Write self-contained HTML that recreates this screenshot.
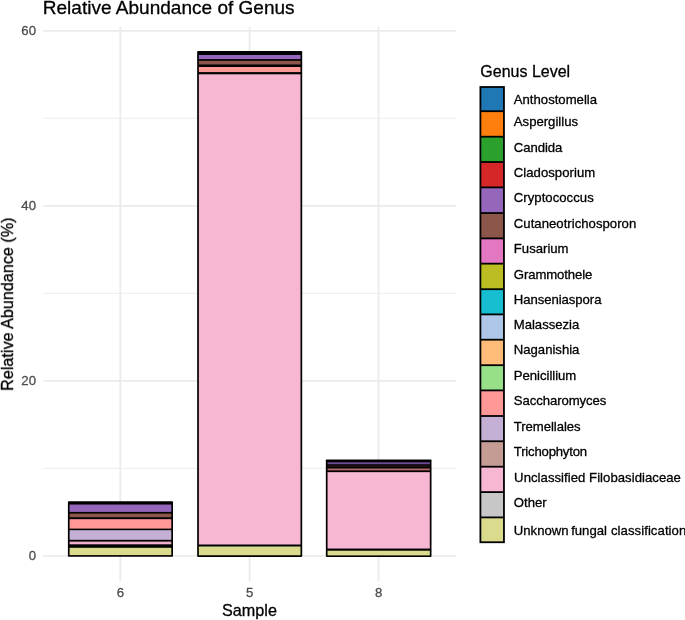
<!DOCTYPE html>
<html lang="en"><head><meta charset="utf-8"><title>Relative Abundance of Genus</title>
<style>html,body{margin:0;padding:0;background:#fff;overflow:hidden;}svg{display:block;}text{filter:url(#soft);font-family:"Liberation Sans",Arial,Helvetica,sans-serif;stroke-width:0.3px;stroke-linejoin:round;}</style>
</head><body>
<svg width="685" height="620" viewBox="0 0 685 620">
<defs><filter id="soft" x="-5%" y="-10%" width="110%" height="120%"><feGaussianBlur stdDeviation="0.3"/></filter></defs>
<rect x="0" y="0" width="685" height="620" fill="#ffffff"/>
<g stroke="#ebebeb" stroke-width="0.9" fill="none">
<line x1="43.2" x2="456.4" y1="468.30" y2="468.30"/>
<line x1="43.2" x2="456.4" y1="293.30" y2="293.30"/>
<line x1="43.2" x2="456.4" y1="118.30" y2="118.30"/>
</g>
<g stroke="#ebebeb" stroke-width="1.8" fill="none">
<line x1="43.2" x2="456.4" y1="555.80" y2="555.80"/>
<line x1="43.2" x2="456.4" y1="380.80" y2="380.80"/>
<line x1="43.2" x2="456.4" y1="205.80" y2="205.80"/>
<line x1="43.2" x2="456.4" y1="30.80" y2="30.80"/>
<line x1="120.3" x2="120.3" y1="26.8" y2="581.0"/>
<line x1="249.6" x2="249.6" y1="26.8" y2="581.0"/>
<line x1="378.55" x2="378.55" y1="26.8" y2="581.0"/>
</g>
<rect x="67.9" y="501.2" width="105.10" height="55.65" rx="0.8" ry="0.8" fill="#000"/>
<rect x="69.60" y="504.55" width="101.70" height="7.35" fill="#9467bd"/>
<rect x="69.60" y="513.6" width="101.70" height="3.65" fill="#8c564b"/>
<rect x="69.60" y="519.2" width="101.70" height="9.40" fill="#ff9896"/>
<rect x="69.60" y="530.2" width="101.70" height="9.60" fill="#c5b0d5"/>
<rect x="69.60" y="541.6" width="101.70" height="2.70" fill="#f0aecb"/>
<rect x="69.60" y="547.8" width="101.70" height="7.30" fill="#dbdb8d"/>
<rect x="197.15" y="51.1" width="105.05" height="505.80" rx="0.8" ry="0.8" fill="#000"/>
<rect x="198.85" y="55.0" width="101.65" height="4.10" fill="#9467bd"/>
<rect x="198.85" y="60.8" width="101.65" height="3.65" fill="#8c564b"/>
<rect x="198.85" y="67.0" width="101.65" height="5.10" fill="#ff9896"/>
<rect x="198.85" y="74.3" width="101.65" height="470.20" fill="#f7b6d2"/>
<rect x="198.85" y="546.5" width="101.65" height="8.75" fill="#dbdb8d"/>
<rect x="325.85" y="459.55" width="105.65" height="97.35" rx="0.8" ry="0.8" fill="#000"/>
<rect x="327.55" y="462.25" width="102.25" height="2.00" fill="#6a4a92"/>
<rect x="327.55" y="465.15" width="102.25" height="2.00" fill="#1d1210"/>
<rect x="327.55" y="468.45" width="102.25" height="1.95" fill="#b06866"/>
<rect x="327.55" y="472.15" width="102.25" height="76.40" fill="#f7b6d2"/>
<rect x="327.55" y="550.7" width="102.25" height="4.70" fill="#dbdb8d"/>
<text x="42.8" y="14" font-size="19.05" fill="#000" stroke="#000">Relative Abundance of Genus</text>
<g font-size="13.2" fill="#4d4d4d" stroke="#4d4d4d">
<text x="36.0" y="560" text-anchor="end">0</text>
<text x="36.0" y="385" text-anchor="end">20</text>
<text x="36.0" y="210" text-anchor="end">40</text>
<text x="36.0" y="35" text-anchor="end">60</text>
<text x="120.4" y="597" text-anchor="middle">6</text>
<text x="249.65" y="597" text-anchor="middle">5</text>
<text x="378.7" y="597" text-anchor="middle">8</text>
</g>
<text x="249.5" y="616" font-size="16.2" text-anchor="middle" fill="#000" stroke="#000">Sample</text>
<text transform="translate(13,304.2) rotate(-90)" font-size="16.17" text-anchor="middle" fill="#000" stroke="#000">Relative Abundance (%)</text>
<text x="480.3" y="77" font-size="16" fill="#000" stroke="#000">Genus Level</text>
<rect x="479.5" y="86.10" width="25.35" height="457.05" fill="#000"/>
<rect x="481.30" y="87.90" width="21.75" height="22.40" fill="#1f77b4"/>
<rect x="481.30" y="112.10" width="21.75" height="23.70" fill="#ff7f0e"/>
<rect x="481.30" y="137.60" width="21.75" height="23.50" fill="#2ca02c"/>
<rect x="481.30" y="162.90" width="21.75" height="23.60" fill="#d62728"/>
<rect x="481.30" y="188.30" width="21.75" height="23.85" fill="#9467bd"/>
<rect x="481.30" y="213.95" width="21.75" height="23.55" fill="#8c564b"/>
<rect x="481.30" y="239.30" width="21.75" height="23.45" fill="#e377c2"/>
<rect x="481.30" y="264.55" width="21.75" height="23.75" fill="#bcbd22"/>
<rect x="481.30" y="290.10" width="21.75" height="23.40" fill="#17becf"/>
<rect x="481.30" y="315.30" width="21.75" height="23.50" fill="#aec7e8"/>
<rect x="481.30" y="340.60" width="21.75" height="23.70" fill="#ffbb78"/>
<rect x="481.30" y="366.10" width="21.75" height="23.40" fill="#98df8a"/>
<rect x="481.30" y="391.30" width="21.75" height="23.80" fill="#ff9896"/>
<rect x="481.30" y="416.90" width="21.75" height="23.45" fill="#c5b0d5"/>
<rect x="481.30" y="442.15" width="21.75" height="23.65" fill="#c49c94"/>
<rect x="481.30" y="467.60" width="21.75" height="23.60" fill="#f7b6d2"/>
<rect x="481.30" y="493.00" width="21.75" height="23.50" fill="#c7c7c7"/>
<rect x="481.30" y="518.30" width="21.75" height="23.05" fill="#dbdb8d"/>
<g font-size="13.15" fill="#000" stroke="#000">
<text x="513.8" y="104">Anthostomella</text>
<text x="513.8" y="126">Aspergillus</text>
<text x="513.8" y="152" textLength="48.55" lengthAdjust="spacing">Candida</text>
<text x="513.8" y="177" textLength="81.38" lengthAdjust="spacing">Cladosporium</text>
<text x="513.8" y="202" textLength="79.91" lengthAdjust="spacing">Cryptococcus</text>
<text x="513.8" y="228" textLength="122.40" lengthAdjust="spacing">Cutaneotrichosporon</text>
<text x="513.8" y="253">Fusarium</text>
<text x="513.8" y="279" textLength="78.61" lengthAdjust="spacing">Grammothele</text>
<text x="513.8" y="304" textLength="87.71" lengthAdjust="spacing">Hanseniaspora</text>
<text x="513.8" y="329" textLength="65.43" lengthAdjust="spacing">Malassezia</text>
<text x="513.8" y="354" textLength="65.60" lengthAdjust="spacing">Naganishia</text>
<text x="513.8" y="380" textLength="62.51" lengthAdjust="spacing">Penicillium</text>
<text x="513.8" y="405" textLength="92.58" lengthAdjust="spacing">Saccharomyces</text>
<text x="513.8" y="431" textLength="66.74" lengthAdjust="spacing">Tremellales</text>
<text x="513.8" y="456" textLength="73.28" lengthAdjust="spacing">Trichophyton</text>
<text x="514.1" y="482" textLength="166.81" lengthAdjust="spacing">Unclassified Filobasidiaceae</text>
<text x="513.8" y="507">Other</text>
<text x="513.8" y="535"><tspan>Unknown</tspan><tspan dx="-1.1"> fungal</tspan><tspan dx="0.2" letter-spacing="0.07"> classification</tspan></text>
</g>
</svg>
</body></html>
